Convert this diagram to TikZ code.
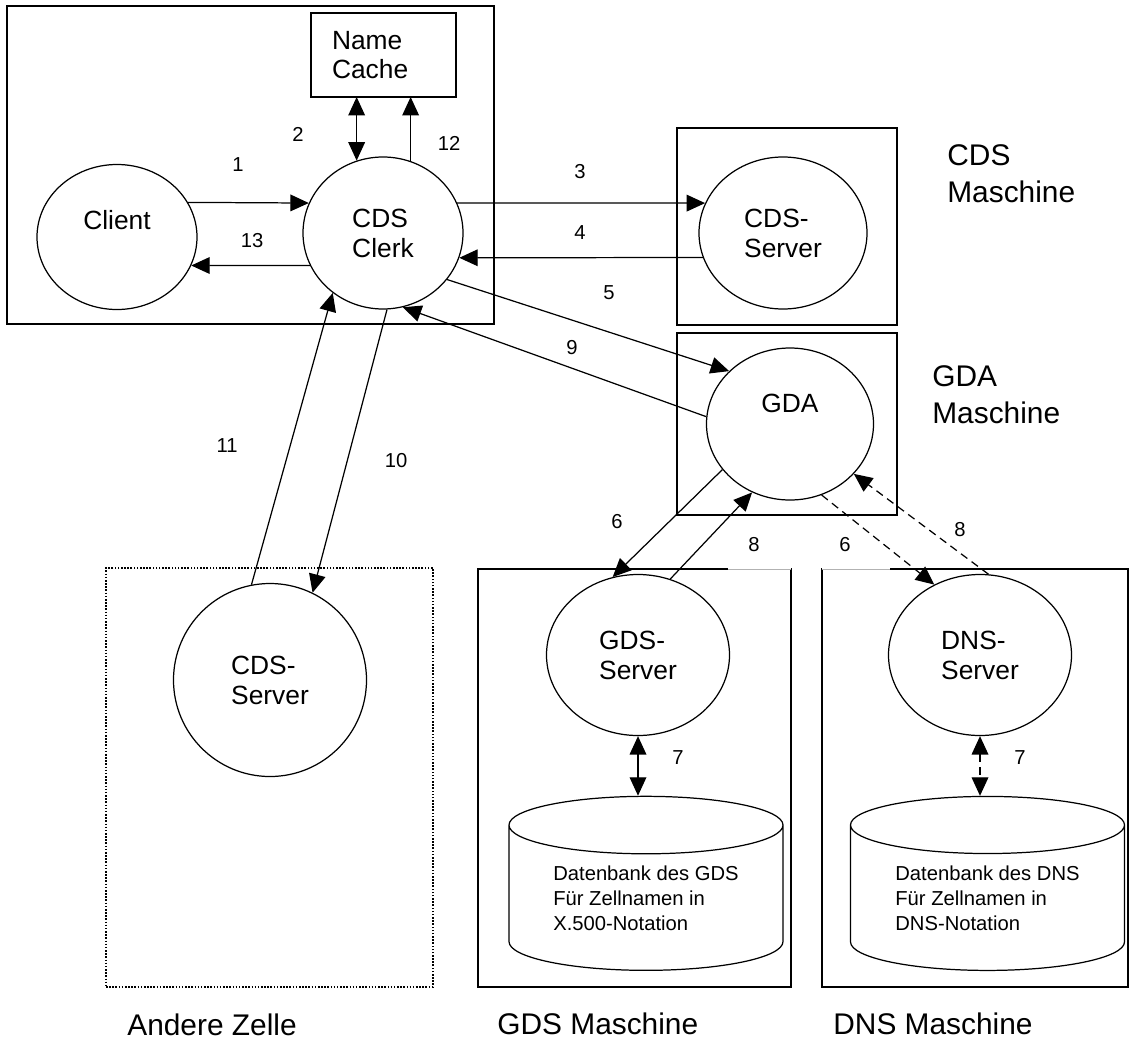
\documentclass[tikz,border=0pt]{standalone}
\usepackage{fontspec}
\setmainfont{Liberation Sans}
\usetikzlibrary{arrows.meta, shapes.geometric}
\newcommand{\srvfont}{\fontsize{15}{17}\selectfont}
\newcommand{\ttlfont}{\fontsize{17}{21}\selectfont}
\newcommand{\numfont}{\fontsize{11.5}{13}\selectfont}
\newcommand{\dbfont}{\fontsize{11.5}{14.2}\selectfont}
\tikzset{
  >={Triangle[length=10.5pt, width=9.5pt]},
  frame/.style={rectangle, draw, line width=0.75pt, inner sep=0pt, outer sep=0pt},
  cellbox/.style={frame, line width=0.8pt, dash pattern=on 0.9pt off 0.9pt},
  srv/.style={ellipse, draw, line width=0.7pt, inner sep=0pt, align=left, font=\srvfont},
  db/.style={cylinder, shape border rotate=90, aspect=0.31, draw, line width=0.7pt,
             inner sep=0pt, align=left, font=\dbfont, minimum width=54.8mm, minimum height=34.8mm},
  ttl/.style={anchor=west, inner sep=0pt, align=left, font=\ttlfont},
  num/.style={inner sep=0pt, font=\numfont},
  msg/.style={->, line width=0.7pt},
  msgd/.style={msg, dash pattern=on 4.5pt off 3pt},
  gap/.style={draw=black!30, line width=0.5pt, preaction={draw=white, line width=1.6pt}},
}

\begin{document}
\begin{tikzpicture}[x=0.2mm, y=-0.2mm]
    \useasboundingbox (0,0) rectangle (1130,1043);

    % machine frames
    \node[frame, minimum width=97.4mm, minimum height=63.6mm] (owncell) at (250.5,165) {};
    \node[frame, minimum height=16.8mm, text width=20.6mm, inner xsep=4.2mm, align=left, font=\srvfont] (cache) at (383.5,55) {Name\\Cache};
    \node[frame, minimum width=44mm, minimum height=39.4mm] (cdsm) at (787,226.5) {};
    \node[frame, minimum width=44mm, minimum height=36.4mm] (gdam) at (787,424) {};
    \node[cellbox, minimum width=65.4mm, minimum height=83.8mm] (remotecell) at (269.5,777.5) {};
    \node[frame, minimum width=62.6mm, minimum height=83.6mm] (gdsm) at (634.5,778) {};
    \node[frame, minimum width=61.2mm, minimum height=83.6mm] (dnsm) at (975,778) {};
    \draw[gap] ([xshift=-12.6mm]gdsm.north east) -- (gdsm.north east);
    \draw[gap] (dnsm.north west) -- ([xshift=13.6mm]dnsm.north west);

    % processes
    \node[srv, minimum width=32mm, minimum height=29mm, label={[font=\srvfont, yshift=3.4mm]center:Client}] (client) at (117,237) {};
    \node[srv, minimum width=32mm, minimum height=30.4mm] (clerk) at (383,233) {CDS\\Clerk};
    \node[srv, minimum width=33.6mm, minimum height=30.4mm] (cdsserver) at (783,233) {CDS-\\Server};
    \node[srv, minimum width=33.4mm, minimum height=30.4mm, label={[font=\srvfont, yshift=4.2mm]center:GDA}] (gda) at (790,424) {};
    \node[srv, minimum width=38.6mm, minimum height=38.6mm] (remoteserver) at (270,680) {CDS-\\Server};
    \node[srv, minimum width=36.6mm, minimum height=32.2mm] (gdsserver) at (638,655) {GDS-\\Server};
    \node[srv, minimum width=36.6mm, minimum height=32.2mm] (dnsserver) at (980,655) {DNS-\\Server};

    % databases
    \node[db] (gdsdb) at (646,898) {Datenbank des GDS\\Für Zellnamen in\\X.500-Notation};
    \node[db] (dnsdb) at (987.5,898) {Datenbank des DNS\\Für Zellnamen in\\DNS-Notation};

    % titles
    \node[ttl] (cdsmtitle) at (947,173.5) {CDS\\Maschine};
    \node[ttl] (gdamtitle) at (932,395) {GDA\\Maschine};
    \node[ttl] (remotetitle) at (127,1025) {Andere Zelle};
    \node[ttl] (gdsmtitle) at (497,1024) {GDS Maschine};
    \node[ttl] (dnsmtitle) at (833,1024) {DNS Maschine};

    % messages
    \draw[msg] (client.26) -- (clerk.158);
    \draw[msg, <->] (clerk.110) -- (clerk.110 |- cache.south);
    \draw[msg] (clerk.22) -- (cdsserver.159);
    \draw[msg] (cdsserver.197) -- (clerk.342);
    \draw[msg] (clerk.324) -- (gda.139);
    \draw[msg] (gda.214) -- (gdsserver.108);
    \draw[msg, <->] (gdsserver.south) -- (gdsserver.south |- gdsdb.north);
    \draw[msg] (gdsserver.67) -- (gda.241);
    \draw[msgd] (gda.294) -- (dnsserver.123);
    \draw[msgd, <->] (dnsserver.south) -- (dnsserver.south |- dnsdb.north);
    \draw[msgd] (dnsserver.84) -- (gda.322);
    \draw[msg] (gda.175) -- (clerk.285);
    \draw[msg] (clerk.273) -- (remoteserver.64);
    \draw[msg] (remoteserver.101) -- (clerk.230);
    \draw[msg] (clerk.69) -- (clerk.69 |- cache.south);
    \draw[msg] (clerk.204) -- (client.339);

    % step numbers
    \foreach \t/\x/\y [count=\i] in {1/238/165, 2/298/134, 12/449/143, 13/252/241, 3/580/172,
        4/580/233, 5/609/293, 9/572/348, 11/227/446, 10/396/461, 6/617/522, 8/754/545,
        6/845/545, 8/960/530, 7/678/758, 7/1020/758}
      \node[num] (step\i) at (\x,\y) {\t};
\end{tikzpicture}
\end{document}
